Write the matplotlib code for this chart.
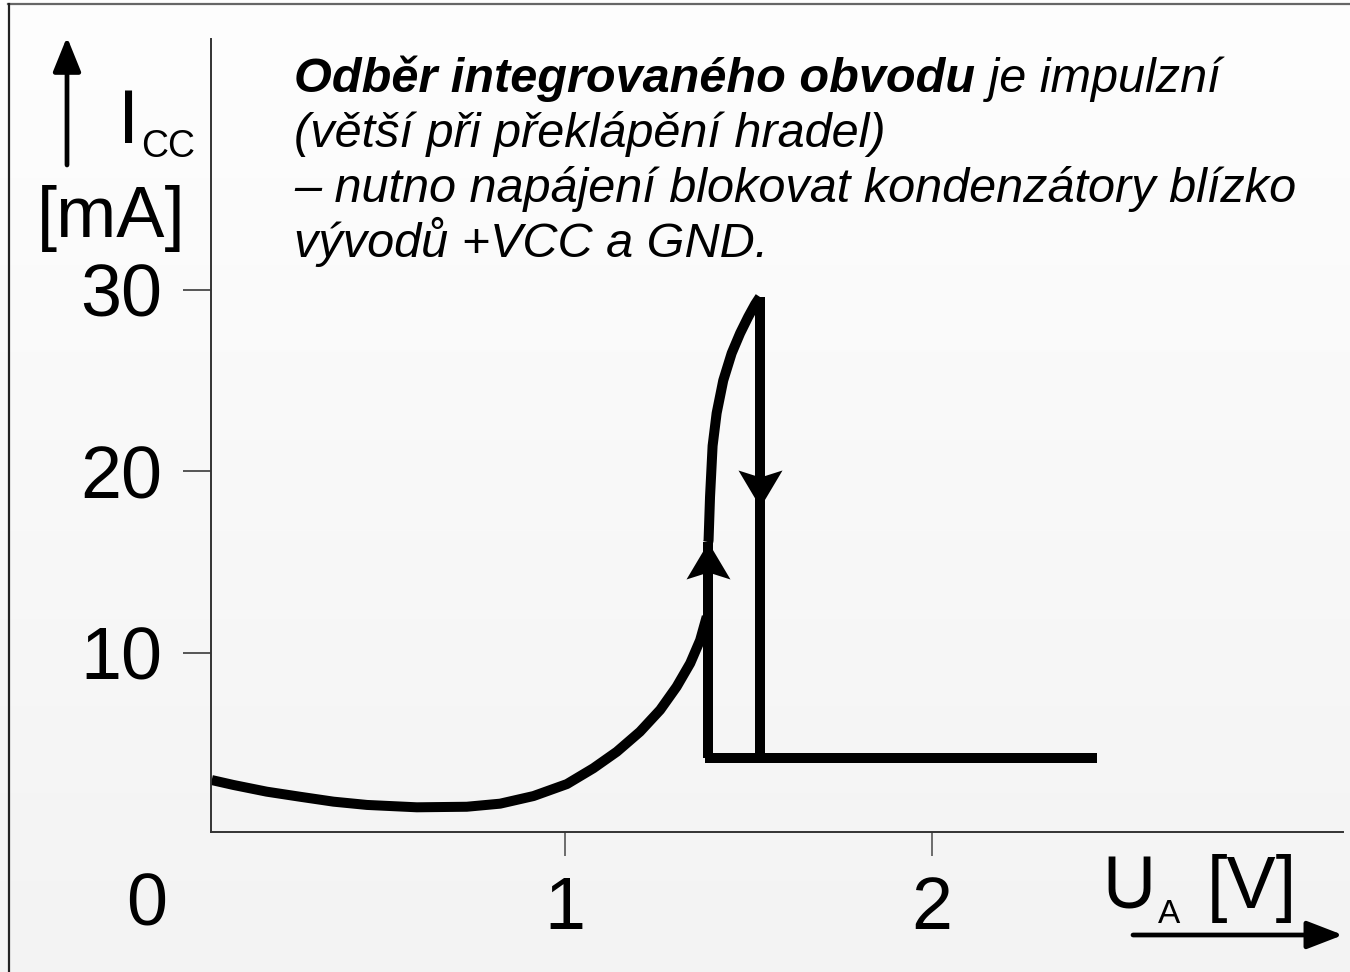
import numpy as np
import matplotlib
matplotlib.use("Agg")
import matplotlib.pyplot as plt
from matplotlib.lines import Line2D
from matplotlib.path import Path
from matplotlib.patches import FancyArrowPatch
from matplotlib.colors import LinearSegmentedColormap

plt.rcParams['font.family'] = ['Liberation Sans', 'DejaVu Sans']

# Supply current vs. input voltage of a logic gate
rise_u = [0.037, 0.096, 0.187, 0.278, 0.369, 0.460, 0.596, 0.732, 0.823, 0.914,
          1.005, 1.077, 1.141, 1.204, 1.259, 1.304, 1.341, 1.368, 1.386]
rise_i = [3.0, 2.73, 2.36, 2.08, 1.81, 1.63, 1.50, 1.53, 1.70, 2.12,
          2.78, 3.65, 4.56, 5.66, 6.86, 8.14, 9.43, 10.7, 12.0]
peak_u = [1.390, 1.391, 1.395, 1.402, 1.413, 1.431, 1.454, 1.477, 1.499, 1.518, 1.531]
peak_i = [16.1, 16.2, 18.6, 21.4, 23.2, 25.0, 26.5, 27.6, 28.5, 29.2, 29.6]
switch_up_u = 1.390
switch_down_u = 1.531
i_low = 4.2
i_top = 29.6
flat_u = [1.381, 2.45]
arrow_up_tip = 16.1
arrow_down_tip = 18.05

x_ticks = [1, 2]
x_labels = ['1', '2']
y_ticks = [10, 20, 30]
y_labels = ['10', '20', '30']

W, H = 1350, 972
fig = plt.figure(figsize=(W / 100, H / 100), dpi=100)

def fx(px):
    return px / W

def fy(py):
    return 1 - py / H

# soft vertical background gradient
bg = fig.add_axes([0, 0, 1, 1], zorder=-5)
grad = np.linspace(0, 1, 256).reshape(-1, 1)
cmap = LinearSegmentedColormap.from_list('bg', ['#fefefe', '#f3f3f3'])
bg.imshow(grad, aspect='auto', cmap=cmap, extent=[0, 1, 0, 1], origin='upper')
bg.set_axis_off()

# frame lines at top and left
fig.add_artist(Line2D([fx(8), 1], [fy(4.5), fy(4.5)], color='#666666', lw=1.6,
                      transform=fig.transFigure))
fig.add_artist(Line2D([fx(8.5), fx(8.5)], [0, fy(4.5)], color='#222222', lw=1.6,
                      transform=fig.transFigure))

ax = fig.add_axes([fx(211), fy(832), fx(1343 - 211), (832 - 39) / H])
ax.set_facecolor('none')
ax.set_xlim(0.035, 3.12)
ax.set_ylim(0.14, 43.8)
for s in ['top', 'right']:
    ax.spines[s].set_visible(False)
for s in ['left', 'bottom']:
    ax.spines[s].set_color('#333333')
    ax.spines[s].set_linewidth(1.4)

ax.set_xticks(x_ticks)
ax.set_xticklabels(x_labels)
ax.set_yticks(y_ticks)
ax.set_yticklabels(y_labels)
ax.tick_params(axis='y', length=20, width=1.4, color='#555555', pad=15, labelsize=53)
ax.tick_params(axis='x', length=17, width=1.2, color='#555555', pad=14, labelsize=53)

lw = 7.2
ax.plot(rise_u, rise_i, color='black', lw=lw, solid_joinstyle='round', solid_capstyle='butt')
ax.plot(peak_u, peak_i, color='black', lw=lw, solid_joinstyle='round', solid_capstyle='butt')
ax.plot([switch_up_u, switch_up_u], [i_low, arrow_up_tip], color='black', lw=lw,
        solid_capstyle='butt')
ax.plot([switch_down_u, switch_down_u], [i_top, i_low], color='black', lw=lw,
        solid_capstyle='butt')
ax.plot(flat_u, [i_low, i_low], color='black', lw=lw, solid_capstyle='butt')

# notched arrowheads marking the direction of travel
up_head = Path([(0, 0), (-22, -37), (0, -30), (22, -37), (0, 0)],
               [Path.MOVETO, Path.LINETO, Path.LINETO, Path.LINETO, Path.CLOSEPOLY])
down_head = Path([(0, 0), (-22, 37), (0, 30), (22, 37), (0, 0)],
                 [Path.MOVETO, Path.LINETO, Path.LINETO, Path.LINETO, Path.CLOSEPOLY])
ms = 74 * 0.72
ax.plot([switch_up_u], [arrow_up_tip], marker=up_head, ms=ms, color='black', mew=0)
ax.plot([switch_down_u], [arrow_down_tip], marker=down_head, ms=ms, color='black', mew=0)

# axis captions with their arrows
fig.text(fx(147), fy(906), '0', ha='center', va='center', fontsize=53)

fig.text(fx(118), fy(143), 'I', ha='left', va='baseline', fontsize=55)
fig.text(fx(141), fy(157), 'CC', ha='left', va='baseline', fontsize=27)
fig.text(fx(37), fy(237), '[mA]', ha='left', va='baseline', fontsize=52)
fig.add_artist(FancyArrowPatch(
    (fx(67), fy(165)), (fx(67), fy(37)), transform=fig.transFigure,
    arrowstyle='-|>,head_length=21,head_width=8.5', mutation_scale=1,
    lw=3.4, color='black', shrinkA=0, shrinkB=0))

fig.text(fx(1102), fy(908), 'U', ha='left', va='baseline', fontsize=53)
fig.text(fx(1158), fy(923), 'A', ha='left', va='baseline', fontsize=24)
fig.text(fx(1207), fy(908), '[V]', ha='left', va='baseline', fontsize=53)
fig.add_artist(FancyArrowPatch(
    (fx(1133), fy(935)), (fx(1343), fy(935)), transform=fig.transFigure,
    arrowstyle='-|>,head_length=22,head_width=8.5', mutation_scale=1,
    lw=3.4, color='black', shrinkA=0, shrinkB=0))

# note text
fs = 35
t1 = fig.text(fx(294), fy(92), 'Odběr integrovaného obvodu', ha='left', va='baseline',
              fontsize=fs, fontweight='bold', fontstyle='italic')
fig.canvas.draw()
r = fig.canvas.get_renderer()
bb = t1.get_window_extent(r)
fig.text(bb.x1 / W, fy(92), ' je impulzní', ha='left', va='baseline',
         fontsize=fs, fontstyle='italic')
fig.text(fx(294), fy(147), '(větší při překlápění hradel)', ha='left', va='baseline',
         fontsize=fs, fontstyle='italic')
fig.text(fx(294), fy(202), '– nutno napájení blokovat kondenzátory blízko', ha='left',
         va='baseline', fontsize=fs, fontstyle='italic')
fig.text(fx(294), fy(257), 'vývodů +VCC a GND.', ha='left', va='baseline',
         fontsize=fs, fontstyle='italic')

fig.savefig('out.png', dpi=100)
